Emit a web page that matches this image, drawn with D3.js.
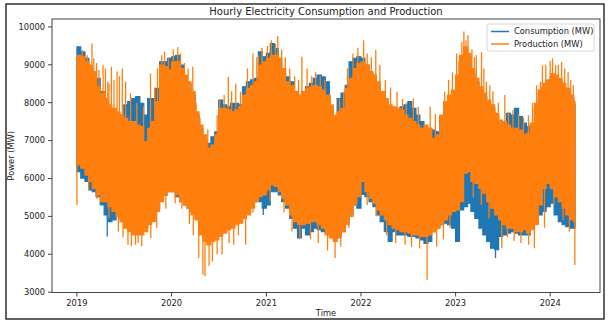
<!DOCTYPE html>
<html>
<head>
<meta charset="utf-8">
<script src="https://cdn.jsdelivr.net/npm/d3@7"></script>
<style>
  body { margin: 0; background: #fff; }
  text { font-family: "DejaVu Sans", sans-serif; fill: #222; }
</style>
</head>
<body>
<svg id="chart" width="609" height="330"></svg>
<script>
// Half-month envelopes of the hourly series (MW): typical daily high and low
// inside each half-month, Jan 2019 .. early Apr 2024 (127 periods).
const prodHigh = [
  9250,9210,9080,8990,8820,8420,8250,8110,7940,7850,
  7760,7670,7590,7500,7500,7410,7370,6970,7320,7500,
  8030,8990,8950,8860,9080,9080,8900,8730,8550,8290,
  7760,7410,7150,6800,6880,7150,7850,7850,7810,7760,
  7810,7890,8200,8380,8460,8550,8990,9080,9170,9250,
  9250,9170,8900,8550,8460,8290,8200,8290,8380,8420,
  8460,8420,8330,8200,7940,7670,7760,7850,8380,8640,
  8900,9040,9080,8990,8820,8730,8550,8290,8110,7940,
  7890,7850,7810,7670,7590,7500,7410,7320,7410,7320,
  7060,7150,7670,8030,8200,8330,8730,9250,9470,9300,
  8900,8640,8420,8250,8070,7940,7720,7540,7500,7410,
  7320,7320,7280,7150,7190,7460,7980,8330,8510,8600,
  8770,8730,8640,8510,8380,8200,8030
];
const prodLow = [
  6360,6270,6090,5920,5740,5570,5390,5390,5260,5130,
  5000,4860,4690,4600,4510,4510,4510,4600,4780,4860,
  5130,5390,5570,5650,5650,5570,5390,5300,5220,5040,
  4910,4510,4340,4250,4340,4380,4470,4560,4650,4690,
  4780,4820,4950,5040,5220,5390,5520,5570,5700,5830,
  5790,5650,5480,5300,5040,4860,4780,4780,4820,4860,
  4860,4780,4690,4510,4430,4340,4430,4600,4780,5000,
  5300,5520,5920,5650,5480,5350,5170,5040,4910,4780,
  4690,4650,4600,4600,4560,4510,4510,4470,4470,4510,
  4600,4690,4780,4910,5040,5130,5170,5390,6140,6180,
  5920,5870,5740,5610,5390,5220,5040,4910,4780,4690,
  4690,4600,4600,4650,4560,4650,4780,5300,5740,5870,
  5740,5520,5390,5220,5040,4910,4860
];
const consHigh = [
  9470,9340,9170,8900,8730,8640,8290,8030,7850,7760,
  7670,7670,7940,8030,8110,8160,7980,7670,8110,8110,
  8380,9080,9080,9170,9210,9250,8990,8680,8510,8200,
  7680,7320,7060,6930,7100,7230,8070,7940,7890,7980,
  7980,7940,8420,8550,8600,8640,9340,9210,9300,9560,
  9430,9080,8860,8680,8550,8250,8160,8250,8420,8510,
  8640,8730,8680,8550,7850,7630,8110,8250,8460,9080,
  9170,9210,9170,8990,8770,8680,8510,8200,8030,7890,
  7850,7850,7890,7940,8030,7850,7670,7500,7320,7320,
  7280,7230,7630,7940,8160,8290,8640,9170,9390,9210,
  8820,8550,8330,8160,7980,7850,7670,7500,7500,7720,
  7670,7850,7630,7460,7370,7410,7890,8250,8420,8510,
  8680,8640,8550,8420,8290,8110,7940
];
const consLow = [
  6180,6010,5920,5700,5650,5520,5300,5040,4860,4910,
  5000,4950,4780,4690,4600,4600,4600,4690,4860,4950,
  5220,5430,5570,5650,5650,5520,5390,5300,5220,5130,
  4950,4600,4430,4340,4430,4470,4560,4600,4690,4730,
  4820,4860,5000,5090,5260,5390,5390,5220,5300,5650,
  5650,5570,5390,5220,4950,4690,4430,4690,4510,4600,
  4690,4650,4600,4560,4470,4430,4470,4600,4820,5040,
  5300,5220,5580,5520,5390,5260,5040,4860,4600,4340,
  4600,4510,4510,4510,4470,4470,4430,4380,4290,4340,
  4600,4690,4780,4820,4780,4690,4340,5170,5260,5350,
  5130,4950,4690,4510,4340,4160,4120,4470,4510,4560,
  4600,4560,4510,4510,4510,4690,4820,5040,5130,5260,
  5350,5040,4860,4780,4730,4690,4690
];

// Single extreme hours that stand out above / below the envelopes.
const prodPeakDates = [
  "2019-01-22","2019-02-10","2019-02-28","2019-03-07","2019-03-18","2019-03-27","2019-04-12","2019-04-21","2019-04-30","2019-05-05",
  "2019-05-14","2019-05-24","2019-06-05","2019-06-14","2019-06-25","2019-07-08","2019-07-27","2019-08-20","2019-09-15","2019-10-12",
  "2019-10-28","2019-11-08","2019-11-24","2019-12-05","2019-12-20","2020-01-08","2020-01-25","2020-02-05","2020-02-20","2020-03-05",
  "2020-03-23","2020-04-05","2020-04-20","2020-05-20","2020-06-25","2020-07-05","2020-07-22","2020-08-07","2020-08-20","2020-09-05",
  "2020-09-23","2020-10-20","2020-11-10","2020-11-25","2020-12-01","2020-12-15","2021-01-05","2021-01-20","2021-02-05","2021-02-14",
  "2021-03-01","2021-03-15","2021-04-01","2021-04-20","2021-05-05","2021-05-18","2021-06-07","2021-06-25","2021-07-10","2021-07-28",
  "2021-08-15","2021-09-05","2021-10-10","2021-10-26","2021-11-10","2021-12-01","2021-12-20","2022-01-11","2022-01-25","2022-02-10",
  "2022-02-27","2022-03-15","2022-04-05","2022-04-25","2022-05-20","2022-06-10","2022-06-25","2022-07-22","2022-08-10","2022-09-25",
  "2022-10-15","2022-11-20","2022-12-05","2022-12-20","2023-01-05","2023-01-14","2023-01-25","2023-02-02","2023-02-10","2023-02-18",
  "2023-03-05","2023-03-15","2023-03-22","2023-04-11","2023-04-20","2023-04-30","2023-05-13","2023-05-25","2023-06-15","2023-07-10",
  "2023-07-24","2023-08-10","2023-09-01","2023-09-20","2023-10-09","2023-10-25","2023-11-10","2023-11-24","2023-12-02","2023-12-15",
  "2024-01-01","2024-01-10","2024-01-22","2024-02-01","2024-02-14","2024-02-26","2024-03-10","2024-03-20","2024-03-30"
];
const prodPeakValues = [
  9390,9250,9560,9170,9050,8860,8990,8900,8550,8500,
  8950,8600,8820,8700,8900,8550,8250,8000,7900,8770,
  8400,8900,9250,9350,9200,9400,9470,9300,9050,8900,
  8950,8000,7600,7300,7670,8100,8200,8680,8300,8500,
  8290,8900,9300,9200,9250,9450,9500,9650,9550,9760,
  9400,9200,8900,8700,8600,9210,8900,8700,8800,8700,
  8600,8200,8100,8290,8900,9300,9450,9650,9300,9200,
  9390,9000,8600,8400,8290,8100,8000,8110,7900,7890,
  7700,8290,8600,8800,9300,9080,9600,9880,9650,9780,
  9400,9200,9250,9340,8900,8550,8460,8300,8000,8200,
  7760,7800,7700,7600,7670,8000,8460,8550,8990,9000,
  9100,9170,8990,9000,9080,8900,8800,8600,8460
];
const prodDipDates = [
  "2019-01-01","2019-02-15","2019-03-20","2019-05-05","2019-06-10","2019-06-28","2019-07-17","2019-07-30","2019-08-15","2019-08-25",
  "2019-09-08","2019-10-13","2019-11-05","2019-12-10","2020-01-15","2020-02-10","2020-03-10","2020-03-25","2020-04-15","2020-05-01",
  "2020-05-09","2020-05-25","2020-06-07","2020-06-25","2020-07-14","2020-08-10","2020-08-28","2020-09-15","2020-10-13","2020-11-10",
  "2021-01-15","2021-03-10","2021-04-10","2021-05-10","2021-06-20","2021-07-20","2021-08-25","2021-09-23","2021-10-15","2021-11-15",
  "2022-01-25","2022-03-01","2022-04-10","2022-05-15","2022-06-20","2022-07-15","2022-08-15","2022-09-13","2022-10-20","2022-11-15",
  "2022-12-10","2023-03-10","2023-04-10","2023-05-10","2023-06-28","2023-07-20","2023-08-15","2023-09-10","2023-10-10","2023-11-01",
  "2023-12-10","2024-01-15","2024-02-20","2024-03-15","2024-04-05"
];
const prodDipValues = [
  5300,5700,5450,4950,4600,4450,4250,4210,4250,4300,
  4210,4430,4700,5200,5350,5200,4800,4500,3900,3460,
  3420,3700,3810,4000,3990,4300,4250,4500,4250,5100,
  5400,5100,4600,4400,4400,4300,4100,3900,4200,4700,
  5300,5000,4500,4300,4250,4200,4150,3320,4200,4400,
  4700,5500,5300,4950,4160,4450,4350,4300,4250,4160,
  4700,5300,4900,4600,3720
];
const consDipDates = ["2019-04-28","2020-12-20","2023-06-04"];
const consDipValues = [4470,5040,3900];

const yTicks = [3000,4000,5000,6000,7000,8000,9000,10000];
const yearTicks = ["2019","2020","2021","2022","2023","2024"];
const seriesNames = ["Consumption (MW)","Production (MW)"];
const firstDay = "2019-01-01";
const lastDay = "2024-04-06";

const colors = { cons: "#1f77b4", prod: "#ff7f0e" };
const parse = d3.utcParse("%Y-%m-%d");

// Period start dates: the 1st and the 16th of every month, then April 2024.
const months = d3.utcMonths(parse(firstDay), parse("2024-04-02"));
const periodStarts = [];
months.forEach(m => {
  periodStarts.push(m);
  if (periodStarts.length < prodHigh.length) periodStarts.push(d3.utcDay.offset(m, 15));
});
const tEnd = parse(lastDay);

const svg = d3.select("#chart");
const plot = { left: 52, right: 600, top: 19, bottom: 292.5 };

// Outer frame
svg.append("rect").attr("x", 6).attr("y", 4).attr("width", 598).attr("height", 315)
  .attr("fill", "#fff").attr("stroke", "#111").attr("stroke-width", 1.3);

// Scales with 5% padding on both axes
const t0 = parse(firstDay);
const span = tEnd - t0;
const x = d3.scaleUtc()
  .domain([new Date(+t0 - span * 0.05), new Date(+tEnd + span * 0.05)])
  .range([plot.left, plot.right]);

const allVals = [].concat(prodHigh, prodLow, consHigh, consLow, prodPeakValues, prodDipValues, consDipValues);
const [vmin, vmax] = d3.extent(allVals);
const pad = (vmax - vmin) * 0.05;
const y = d3.scaleLinear().domain([vmin - pad, vmax + pad]).range([plot.bottom, plot.top]);

svg.append("clipPath").attr("id", "plotClip").append("rect")
  .attr("x", plot.left).attr("y", plot.top)
  .attr("width", plot.right - plot.left).attr("height", plot.bottom - plot.top);

const g = svg.append("g").attr("clip-path", "url(#plotClip)");

function bandData(hi, lo) {
  const pts = periodStarts.map((t, i) => ({ t, hi: hi[i], lo: lo[i] }));
  pts.push({ t: tEnd, hi: hi[hi.length - 1], lo: lo[lo.length - 1] });
  return pts;
}
const area = d3.area().curve(d3.curveStepAfter)
  .x(d => x(d.t)).y0(d => y(d.lo)).y1(d => y(d.hi));

function periodIndex(t) {
  return Math.max(0, d3.bisectRight(periodStarts, t) - 1);
}

function drawSeries(hi, lo, color, peaks, peakVals, dips, dipVals) {
  g.append("path").datum(bandData(hi, lo))
    .attr("d", area).attr("fill", color)
    .attr("stroke", color).attr("stroke-width", 1.2).attr("stroke-linejoin", "miter");
  const spikes = [];
  peaks.forEach((d, i) => {
    const t = parse(d), k = periodIndex(t);
    if (peakVals[i] > hi[k]) spikes.push({ t, from: hi[k], to: peakVals[i] });
  });
  dips.forEach((d, i) => {
    const t = parse(d), k = periodIndex(t);
    if (dipVals[i] < lo[k]) spikes.push({ t, from: lo[k], to: dipVals[i] });
  });
  g.selectAll(null).data(spikes).enter().append("line")
    .attr("x1", d => x(d.t)).attr("x2", d => x(d.t))
    .attr("y1", d => y(d.from)).attr("y2", d => y(d.to))
    .attr("stroke", color).attr("stroke-width", 1.3);
}

drawSeries(consHigh, consLow, colors.cons, [], [], consDipDates, consDipValues);
drawSeries(prodHigh, prodLow, colors.prod, prodPeakDates, prodPeakValues, prodDipDates, prodDipValues);

// Axes frame
svg.append("rect").attr("x", plot.left).attr("y", plot.top)
  .attr("width", plot.right - plot.left).attr("height", plot.bottom - plot.top)
  .attr("fill", "none").attr("stroke", "#444").attr("stroke-width", 1);

// Y axis
const yAxis = svg.append("g");
yTicks.forEach(v => {
  yAxis.append("line").attr("x1", plot.left - 4).attr("x2", plot.left)
    .attr("y1", y(v)).attr("y2", y(v)).attr("stroke", "#444");
  yAxis.append("text").attr("x", plot.left - 7).attr("y", y(v)).attr("dy", "0.35em")
    .attr("text-anchor", "end").attr("font-size", 8.3).text(v);
});

// X axis
const xAxis = svg.append("g");
yearTicks.forEach(s => {
  const t = parse(s + "-01-01");
  xAxis.append("line").attr("x1", x(t)).attr("x2", x(t))
    .attr("y1", plot.bottom).attr("y2", plot.bottom + 4).attr("stroke", "#444");
  xAxis.append("text").attr("x", x(t)).attr("y", 306)
    .attr("text-anchor", "middle").attr("font-size", 8.3).text(s);
});

// Titles
svg.append("text").attr("x", (plot.left + plot.right) / 2).attr("y", 14.5)
  .attr("text-anchor", "middle").attr("font-size", 10).text("Hourly Electricity Consumption and Production");
svg.append("text").attr("x", (plot.left + plot.right) / 2).attr("y", 316)
  .attr("text-anchor", "middle").attr("font-size", 8.3).text("Time");
svg.append("text").attr("transform", `translate(13.5,${(plot.top + plot.bottom) / 2}) rotate(-90)`)
  .attr("text-anchor", "middle").attr("font-size", 8.3).text("Power (MW)");

// Legend
const lg = svg.append("g").attr("transform", "translate(487,24)");
lg.append("rect").attr("width", 107).attr("height", 27).attr("rx", 2)
  .attr("fill", "#fff").attr("fill-opacity", 0.85).attr("stroke", "#ccc").attr("stroke-width", 0.8);
[colors.cons, colors.prod].forEach((c, i) => {
  lg.append("line").attr("x1", 4).attr("x2", 22).attr("y1", 7.5 + i * 12.5).attr("y2", 7.5 + i * 12.5)
    .attr("stroke", c).attr("stroke-width", 1.5);
  lg.append("text").attr("x", 27).attr("y", 7.5 + i * 12.5).attr("dy", "0.35em")
    .attr("font-size", 8.3).text(seriesNames[i]);
});
</script>
</body>
</html>
